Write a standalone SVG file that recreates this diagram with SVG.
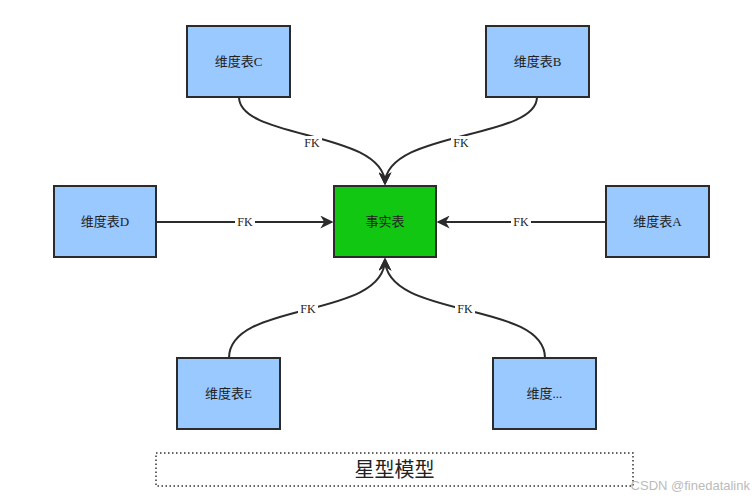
<svg xmlns="http://www.w3.org/2000/svg" width="755" height="500" viewBox="0 0 755 500">
<style>
.n{fill:#99c9ff;stroke:#2b2b2b;stroke-width:2}
.f{fill:#11c711;stroke:#2b2b2b;stroke-width:2}
.t{font-family:"Liberation Serif","Noto Sans CJK SC",serif;font-size:13px;fill:#222;text-anchor:middle;dominant-baseline:central}
.e{fill:none;stroke:#2b2b2b;stroke-width:2}
.l{font-family:"Liberation Serif",serif;font-size:12px;fill:#222;text-anchor:middle;dominant-baseline:central}
.bg{fill:#fff}
</style>
<defs>
<marker id="a" viewBox="0 0 10 10" refX="9" refY="5" markerWidth="7" markerHeight="7" markerUnits="userSpaceOnUse" orient="auto"><path d="M0,0L10,5L0,10L3,5z" fill="#2b2b2b"/></marker>
<marker id="b" viewBox="0 0 10 10" refX="9" refY="5" markerWidth="13" markerHeight="13" markerUnits="userSpaceOnUse" orient="auto"><path d="M0,0L10,5L0,10L3,5z" fill="#2b2b2b"/></marker>
</defs>
<rect width="755" height="500" fill="#fff"/>
<g id="edges">
<path class="e" d="M239,97 C239,140 385,130 385,184" marker-end="url(#b)"/>
<path class="e" d="M537,97 C537,140 385,130 385,184" marker-end="url(#b)"/>
<path class="e" d="M229,358 C229,300 385,320 385,259" marker-end="url(#b)"/>
<path class="e" d="M545,358 C545,300 385,320 385,259" marker-end="url(#b)"/>
<path class="e" d="M156,222 H332" marker-end="url(#b)"/>
<path class="e" d="M606,222 H438" marker-end="url(#b)"/>
<rect class="bg" x="302" y="136" width="20" height="14"/><text class="l" x="312" y="143">FK</text>
<rect class="bg" x="451" y="136" width="20" height="14"/><text class="l" x="461" y="143">FK</text>
<rect class="bg" x="235" y="215" width="20" height="14"/><text class="l" x="245" y="222">FK</text>
<rect class="bg" x="511" y="215" width="20" height="14"/><text class="l" x="521" y="222">FK</text>
<rect class="bg" x="298" y="302" width="20" height="14"/><text class="l" x="308" y="309">FK</text>
<rect class="bg" x="455" y="302" width="20" height="14"/><text class="l" x="465" y="309">FK</text>
</g>
<g id="C"><rect class="n" x="187" y="26" width="103" height="71"/><text class="t" x="238.5" y="61.5">维度表C</text></g>
<g id="B"><rect class="n" x="486" y="26" width="103" height="71"/><text class="t" x="537.5" y="61.5">维度表B</text></g>
<g id="D"><rect class="n" x="54" y="186" width="102" height="71"/><text class="t" x="105" y="221.5">维度表D</text></g>
<g id="fact"><rect class="f" x="334" y="186" width="102" height="71"/><text class="t" x="385" y="221.5">事实表</text></g>
<g id="A"><rect class="n" x="606" y="186" width="103" height="71"/><text class="t" x="657.5" y="221.5">维度表A</text></g>
<g id="E"><rect class="n" x="177" y="358" width="103" height="71"/><text class="t" x="228.5" y="393.5">维度表E</text></g>
<g id="X"><rect class="n" x="493" y="358" width="103" height="71"/><text class="t" x="544.5" y="393.5">维度...</text></g>
<g id="title"><rect x="156" y="453" width="477" height="33" fill="none" stroke="#333" stroke-width="1.5" stroke-dasharray="1.5,2.5"/><text class="t" x="394.5" y="470" style="font-size:20px">星型模型</text></g>
<text x="750" y="490" style="font-family:'Liberation Sans',sans-serif;font-size:13px;fill:#bbb;text-anchor:end">CSDN @finedatalink</text>
</svg>
